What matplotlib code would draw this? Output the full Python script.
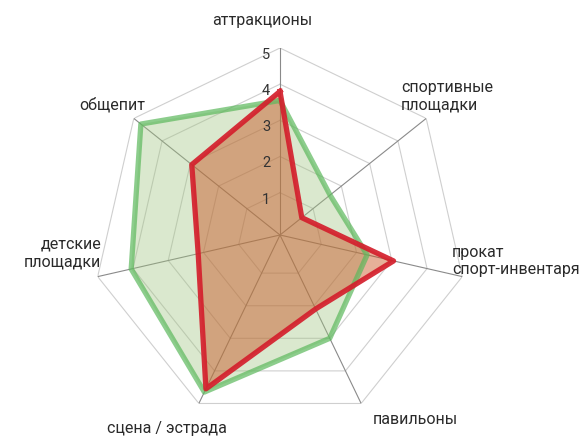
import numpy as np
import matplotlib
matplotlib.use('Agg')
import matplotlib.pyplot as plt

plt.rcParams['font.family'] = ['Roboto', 'DejaVu Sans']

categories = ['аттракционы', 'спортивные\nплощадки', 'прокат\nспорт-инвентаря',
              'павильоны', 'сцена / эстрада', 'детские\nплощадки', 'общепит']
green_vals = [3.55, 1.6, 2.3, 3.0, 4.65, 4.05, 4.75]
red_vals = [3.8, 0.6, 3.05, 2.1, 4.55, 2.15, 2.95]
rings = [1, 2, 3, 4, 5]

n = len(categories)
angles = np.arange(n) * 2 * np.pi / n
ang_c = np.append(angles, angles[0])

fig = plt.figure(figsize=(5.82, 4.38), dpi=100)
W, H = 582, 438
cx, cy, R = 280, 235, 187
ax = fig.add_axes([(cx - R) / W, (H - cy - R) / H, 2 * R / W, 2 * R / H],
                  projection='polar')
ax.set_theta_zero_location('N')
ax.set_theta_direction(-1)
ax.set_ylim(-0.17, 5)
ax.grid(False)
ax.spines['polar'].set_visible(False)
ax.set_xticks([])
ax.set_yticks([])

# polygon grid
for r in rings:
    ax.plot(ang_c, [r] * (n + 1), color='#cfcfcf', lw=0.8, zorder=1)
for a in angles:
    ax.plot([a, a], [-0.17, 5], color='#8a8a8a', lw=0.8, zorder=1)

# series
g = np.append(green_vals, green_vals[0])
rd = np.append(red_vals, red_vals[0])
ax.fill(ang_c, g, color='#9fc47f', alpha=0.38, lw=0, zorder=2)
ax.fill(ang_c, rd, color='#c8501e', alpha=0.45, lw=0, zorder=3)
ax.plot(ang_c, g, color='#5cb85c', alpha=0.7, lw=3.8, zorder=4)
ax.plot(ang_c, rd, color='#d41f2c', alpha=0.92, lw=3.8, zorder=5)

for r in rings:
    ax.annotate(str(r), xy=(0, r), xytext=(-7, -5), textcoords='offset points',
                ha='right', va='center', fontsize=10.5, color='#333333',
                zorder=6)

# category labels
lab_pos = [(262, 20, 'center'), (401, 96, 'left'), (452, 261, 'left'),
           (373, 420, 'left'), (167, 428, 'center'), (101, 253, 'right'),
           (145, 105, 'right')]
for text, (x, y, ha) in zip(categories, lab_pos):
    fig.text(x / W, 1 - y / H, text, ha=ha, va='center', fontsize=11.5,
             color='#2a2a2a', linespacing=1.2)

fig.savefig('out.png', dpi=100)
